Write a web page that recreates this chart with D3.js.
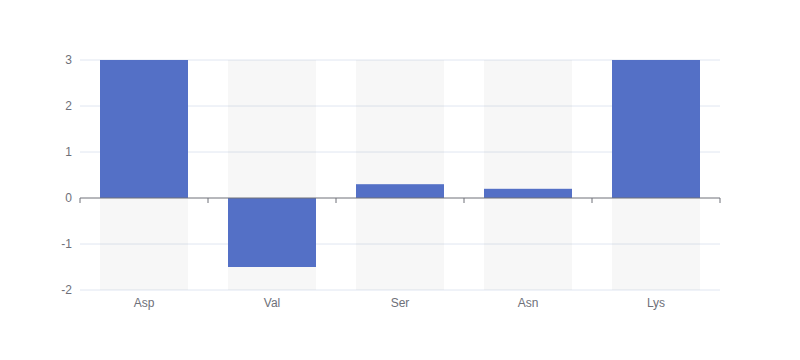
<!DOCTYPE html>
<html>
<head>
<meta charset="utf-8">
<script src="https://cdn.jsdelivr.net/npm/d3@7"></script>
<style>
  body { margin: 0; background: #fff; }
  svg text { font-family: sans-serif; font-size: 12px; fill: #6E7079; }
</style>
</head>
<body>
<div id="chart"></div>
<script>
const categories = ['Asp', 'Val', 'Ser', 'Asn', 'Lys'];
const values = [3.8, -1.5, 0.3, 0.2, 4.2];
const yTicks = [-2, -1, 0, 1, 2, 3];

const width = 800, height = 360;
const margin = { top: 60, right: 80, bottom: 70, left: 80 };
const innerW = width - margin.left - margin.right,
      innerH = height - margin.top - margin.bottom;

const x = d3.scaleBand()
    .domain(categories)
    .range([0, innerW]);

const y = d3.scaleLinear()
    .domain([-2, 3])
    .range([innerH, 0]);

const barW = x.bandwidth() * 0.6875;

const svg = d3.select('#chart').append('svg')
    .attr('width', width)
    .attr('height', height);

const g = svg.append('g')
    .attr('transform', `translate(${margin.left},${margin.top})`);

// grid lines
g.append('g')
  .selectAll('line')
  .data(yTicks.filter(d => d !== 0))
  .enter().append('line')
    .attr('x1', 0).attr('x2', innerW)
    .attr('y1', d => y(d)).attr('y2', d => y(d))
    .attr('stroke', '#E0E6F1');

// background bars
g.append('g')
  .selectAll('rect')
  .data(categories)
  .enter().append('rect')
    .attr('x', d => x(d) + (x.bandwidth() - barW) / 2)
    .attr('width', barW)
    .attr('y', 0)
    .attr('height', innerH)
    .attr('fill', 'rgba(180,180,180,0.1)');

// bars (clipped to the axis range)
const lo = y.domain()[0], hi = y.domain()[1];
g.append('g')
  .selectAll('rect')
  .data(categories.map((c, i) => ({ c, v: values[i] })))
  .enter().append('rect')
    .attr('x', d => x(d.c) + (x.bandwidth() - barW) / 2)
    .attr('width', barW)
    .attr('y', d => y(Math.min(hi, Math.max(0, d.v))))
    .attr('height', d => Math.abs(y(Math.max(lo, Math.min(hi, d.v))) - y(0)))
    .attr('fill', '#5470c6');

// y axis labels
g.append('g')
  .selectAll('text')
  .data(yTicks)
  .enter().append('text')
    .attr('x', -8)
    .attr('y', d => y(d))
    .attr('dy', '0.35em')
    .attr('text-anchor', 'end')
    .text(d => d);

// x axis on zero
const xAxis = g.append('g').attr('transform', `translate(0,${y(0)})`);
xAxis.append('line')
    .attr('x1', 0).attr('x2', innerW)
    .attr('stroke', '#6E7079');
xAxis.selectAll('.tick')
  .data(categories.map(c => x(c)).concat([innerW]))
  .enter().append('line')
    .attr('x1', d => d).attr('x2', d => d)
    .attr('y1', 0).attr('y2', 5)
    .attr('stroke', '#6E7079');

// category labels at bottom
g.append('g')
  .selectAll('text')
  .data(categories)
  .enter().append('text')
    .attr('x', d => x(d) + x.bandwidth() / 2)
    .attr('y', innerH + 8)
    .attr('dy', '0.71em')
    .attr('text-anchor', 'middle')
    .text(d => d);
</script>
</body>
</html>
